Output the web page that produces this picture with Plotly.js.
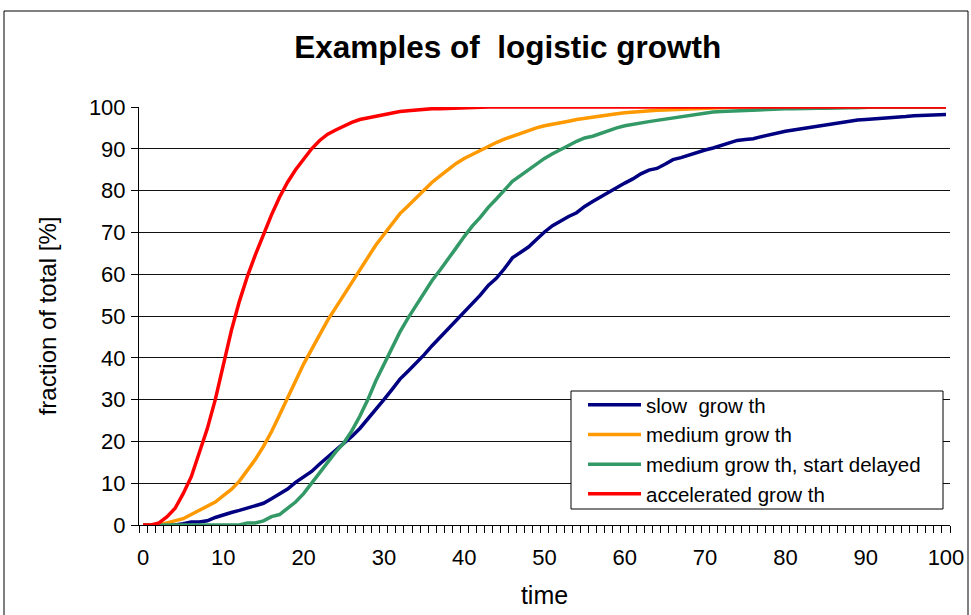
<!DOCTYPE html>
<html><head><meta charset="utf-8">
<script src="https://cdn.plot.ly/plotly-3.0.1.min.js"></script>
<style>html,body{margin:0;padding:0;background:#fff;}#chart{width:971px;height:615px;}</style>
</head><body><div id="chart"></div>
<script>
const time = Array.from({length: 101}, (_, i) => i);
const seriesNames = ["slow  grow th", "medium grow th", "medium grow th, start delayed", "accelerated grow th"];
const slowGrowth = [0,0,0,0,0,0.3,0.7,0.7,1,1.8,2.5,3,3.5,4,4.6,5.2,6.3,7.5,8.6,10.2,11.5,12.8,14.6,16.2,17.8,19.5,21.2,23.1,25.3,27.6,30,32.4,34.9,36.8,38.7,40.7,42.9,44.9,46.9,49.2,51.2,53.2,55,57.3,59,61.3,63.9,65.2,66.5,68.3,70.1,71.6,72.8,73.8,74.7,76.2,77.4,78.5,79.8,80.9,81.8,82.8,84,84.9,85.3,86.3,87.4,87.9,88.5,89.3,89.7,90.2,90.8,91.6,92,92.2,92.4,92.9,93.4,93.8,94.2,94.5,94.8,95.2,95.5,95.7,96,96.4,96.5,96.9,97,97.1,97.4,97.5,97.6,97.7,97.9,98,98.1,98.2,98.2];
const mediumGrowth = [0,0,0,0.5,1,1.5,2.5,3.5,4.5,5.5,7,8.5,10.5,13,15.7,18.8,22.3,26.3,30.4,34.5,38.5,42,45.5,49,52,55,58,61,64,67,69.5,72,74.5,76.3,78.2,80,82,83.5,85,86.5,87.7,88.7,89.5,90.5,91.5,92.3,93,93.6,94.3,95,95.5,95.8,96.3,96.6,97,97.3,97.7,98,98.2,98.4,98.6,98.8,99,99.1,99.2,99.3,99.4,99.5,99.5,99.6,99.6,99.7,99.8,100,100,100,100,100,100,100,100,100,100,100,100,100,100,100,100,100,100,100,100,100,100,100,100,100,100,100,100];
const mediumDelayed = [0,0,0,0,0,0,0,0,0,0,0,0,0,0.5,0.5,1,2,2.5,4,5.5,7.5,10,12.4,14.8,17.5,19.6,22.5,26,30,34.5,38.5,42.5,46.2,49.5,52.5,55.8,58.5,61,63.8,66.3,69,71.5,73.6,76,78,80.2,82.2,83.6,85,86.4,87.7,88.8,89.7,90.8,91.8,92.6,93,93.7,94.4,95,95.5,95.9,96.2,96.5,96.8,97.1,97.5,97.8,98,98.3,98.6,98.8,98.9,99,99.1,99.3,99.4,99.4,99.5,99.6,99.6,99.6,99.7,99.7,99.7,99.7,99.8,99.8,99.8,99.8,100,100,100,100,100,100,100,100,100,100,100];
const accelerated = [0,0,0.5,2,4,7.5,11.5,17,23,30,38.5,46.5,53.5,59.5,64.7,69.6,74.2,78.4,82,85,87.5,90,92,93.5,94.5,95.5,96.3,97,97.4,97.8,98.2,98.6,98.9,99.1,99.3,99.5,99.6,99.6,99.7,99.7,99.8,100,100,100,100,100,100,100,100,100,100,100,100,100,100,100,100,100,100,100,100,100,100,100,100,100,100,100,100,100,100,100,100,100,100,100,100,100,100,100,100,100,100,100,100,100,100,100,100,100,100,100,100,100,100,100,100,100,100,100,100];
const xTickLabels = [0,10,20,30,40,50,60,70,80,90,100];
const yTickLabels = [0,10,20,30,40,50,60,70,80,90,100];
const colors = ["#000080", "#FF9900", "#339966", "#FF0000"];
const allSeries = [slowGrowth, mediumGrowth, mediumDelayed, accelerated];

const FONT = "Liberation Sans, Arial, sans-serif";
const traces = allSeries.map((ys, i) => ({
  x: time, y: ys, type: "scatter", mode: "lines", name: seriesNames[i],
  line: {color: colors[i], width: 3.5}
}));

const L = 139, R = 950, T = 107, B = 525, W = 971, H = 615;
const px = v => (v - L) / (R - L);
const py = v => (B - v) / (B - T);

const layout = {
  width: W, height: H,
  margin: {l: L, r: W - R, t: T, b: H - B, pad: 0},
  paper_bgcolor: "#fff", plot_bgcolor: "#fff",
  font: {family: FONT, color: "#000", size: 21},
  title: {text: "<b>Examples of  logistic growth</b>", font: {family: FONT, size: 31.5, color: "#000"},
          x: 0.523, xanchor: "center", y: 1 - 47 / H, yanchor: "middle"},
  showlegend: true,
  legend: {x: px(583), y: py(385), xanchor: "left", yanchor: "top",
           bgcolor: "rgba(0,0,0,0)", borderwidth: 0,
           font: {family: FONT, size: 20.5, color: "#000"},
           traceorder: "normal", itemwidth: 53},
  xaxis: {range: [-0.5, 100.5], tickmode: "array", tickvals: xTickLabels, ticktext: xTickLabels.map(String),
          ticks: "outside", ticklen: 0, showgrid: false, zeroline: false,
          showline: true, linecolor: "#000", linewidth: 1, ticklabelstandoff: 13,
          tickfont: {family: FONT, size: 22, color: "#000"},
          minor: {tickmode: "linear", tick0: -0.5, dtick: 1, ticks: "outside", ticklen: 7, tickcolor: "#000", tickwidth: 1, showgrid: false},
          title: {text: "time", font: {family: FONT, size: 25, color: "#000"}, standoff: 17}},
  yaxis: {range: [0, 100], tickmode: "array", tickvals: yTickLabels, ticktext: yTickLabels.map(String),
          ticks: "outside", ticklen: 7, tickcolor: "#000", showgrid: true, gridcolor: "#111", gridwidth: 1,
          zeroline: false, showline: true, linecolor: "#000", linewidth: 1, ticklabelstandoff: 1,
          tickfont: {family: FONT, size: 22, color: "#000"},
          title: {text: "fraction of total [%]", font: {family: FONT, size: 24, color: "#000"}, standoff: 25}},
  shapes: [
    {type: "rect", xref: "paper", yref: "paper", x0: px(4), x1: px(968), y0: py(640), y1: py(11),
     line: {color: "#000", width: 1}, fillcolor: "rgba(0,0,0,0)", layer: "below"},
    {type: "rect", xref: "paper", yref: "paper", x0: px(571), x1: px(943), y0: py(509), y1: py(391),
     line: {color: "#000", width: 1}, fillcolor: "#fff", layer: "above"}
  ]
};

Plotly.newPlot("chart", traces, layout, {staticPlot: true, displayModeBar: false});
</script>
</body></html>
